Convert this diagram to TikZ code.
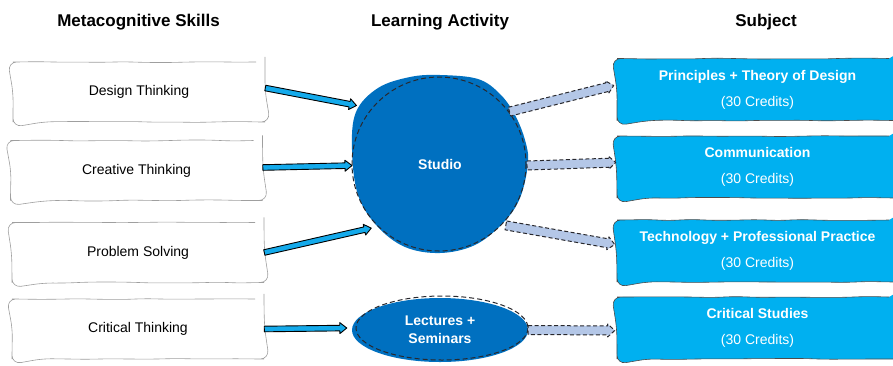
\documentclass[tikz,border=0pt]{standalone}
\usepackage{fontspec}
\setmainfont{Liberation Sans}
\usetikzlibrary{calc,shapes.geometric,decorations.pathmorphing}
\definecolor{studioblue}{RGB}{0,112,192}
\definecolor{subjblue}{RGB}{0,176,240}
\definecolor{arrowblue}{RGB}{20,170,235}
\definecolor{lavender}{RGB}{180,199,231}
\definecolor{dashgray}{RGB}{40,40,45}
\newcommand\fatarr[6]{%
  \path #2 coordinate (fa-s) #3 coordinate (fa-e);
  \path ($(fa-e)!#6!(fa-s)$) coordinate (fa-h);
  \draw[#1] ($(fa-s)!#4!90:(fa-e)$) -- ($(fa-h)!#4!-90:(fa-s)$) -- ($(fa-h)!#5!-90:(fa-s)$) -- (fa-e) -- ($(fa-h)!#5!90:(fa-s)$) -- ($(fa-h)!#4!90:(fa-s)$) -- ($(fa-s)!#4!-90:(fa-e)$) -- cycle;}
\begin{document}
\begin{tikzpicture}[x=1pt,y=-1pt,
  skill/.style={draw=gray!75, line width=0.6pt, fill=white, minimum width=252pt, minimum height=60pt, inner sep=0pt, rounded corners=9pt, decorate, decoration={random steps, segment length=22pt, amplitude=0.6pt}, font=\fontsize{14}{16}\selectfont},
  subj/.style={draw=gray!60!black, line width=0.6pt, fill=subjblue, minimum width=281pt, minimum height=62pt, inner sep=0pt, rounded corners=9pt, decorate, decoration={random steps, segment length=22pt, amplitude=0.6pt}, text=white, align=center, font=\fontsize{14}{26}\selectfont},
  head/.style={font=\bfseries\fontsize{17}{20}\selectfont},
  leftarr/.style={fill=arrowblue, draw=black, line width=0.9pt, line join=round},
  rightarr/.style={fill=lavender, draw=dashgray, line width=1pt, dash pattern=on 4pt off 2.5pt, line join=round},
  dashout/.style={draw=dashgray, line width=1pt, dash pattern=on 5pt off 3pt},
  activity/.style={text=white, inner sep=0pt, font=\bfseries\fontsize{14}{18}\selectfont, align=center}]
\useasboundingbox (0,0) rectangle (893,365);
\clip (0,0) rectangle (893,365);
\pgfmathsetseed{7}
% headers
\node[head] (h1) at (138.5,22) {Metacognitive Skills};
\node[head] (h2) at (440,22) {Learning Activity};
\node[head] (h3) at (766,22) {Subject};
% skills
\node[skill] (s1) at (139,92) {Design Thinking};
\node[skill] (s2) at (136.5,170.5) {Creative Thinking};
\node[skill] (s3) at (138,252.5) {Problem Solving};
\node[skill] (s4) at (138,329) {Critical Thinking};
% subjects
\node[subj] (p1) at (757.5,89.5) {\textbf{Principles + Theory of Design}\\(30 Credits)};
\node[subj] (p2) at (757.5,167) {\textbf{Communication}\\(30 Credits)};
\node[subj] (p3) at (757.5,251) {\textbf{Technology + Professional Practice}\\(30 Credits)};
\node[subj] (p4) at (757.5,328) {\textbf{Critical Studies}\\(30 Credits)};
% studio
\fill[studioblue] plot[smooth cycle, tension=0.6] coordinates {(440,75) (478,79) (500,94) (515,115) (525,140) (528,163) (520,198) (503,223) (475,245) (440,253) (405,247) (377,226) (358,195) (352,150) (356,112) (378,88) (410,77)};
\draw[dashout] (439,164) circle[radius=87];
\node[activity, circle, minimum size=176pt] (studio) at (440,164) {Studio};
% lectures
\node[activity, ellipse, fill=studioblue, minimum width=176pt, minimum height=64pt] (lec) at (440,330) {Lectures +\\Seminars};
\draw[dashout] (442,328) ellipse[x radius=86, y radius=32];
% left arrows
\fatarr{leftarr}{([yshift=4pt]s1.east)}{($(studio.center)!102pt!(studio.145)$)}{2.8pt}{5.5pt}{7pt}
\fatarr{leftarr}{([yshift=3pt]s2.east)}{($(studio.center)!88pt!(studio.181)$)}{2.8pt}{5.5pt}{7pt}
\fatarr{leftarr}{(s3.east)}{($(studio.center)!94pt!(studio.223)$)}{2.8pt}{5.5pt}{7pt}
\fatarr{leftarr}{(s4.east)}{([shift={(-5pt,2pt)}]lec.west)}{2.8pt}{5.5pt}{7pt}
% right arrows
\fatarr{rightarr}{($(studio.center)!87pt!(studio.37)$)}{([shift={(-3pt,4pt)}]p1.west)}{4.5pt}{6.5pt}{7pt}
\fatarr{rightarr}{($(studio.center)!87pt!(studio.-1)$)}{([shift={(-1pt,4.5pt)}]p2.west)}{4.5pt}{6.5pt}{7pt}
\fatarr{rightarr}{($(studio.center)!90pt!(studio.-43)$)}{([shift={(-2pt,6.5pt)}]p3.west)}{4.5pt}{6.5pt}{7pt}
\fatarr{rightarr}{(lec.east)}{([shift={(-2pt,-2.5pt)}]p4.west)}{4.5pt}{6.5pt}{7pt}
\end{tikzpicture}
\end{document}
